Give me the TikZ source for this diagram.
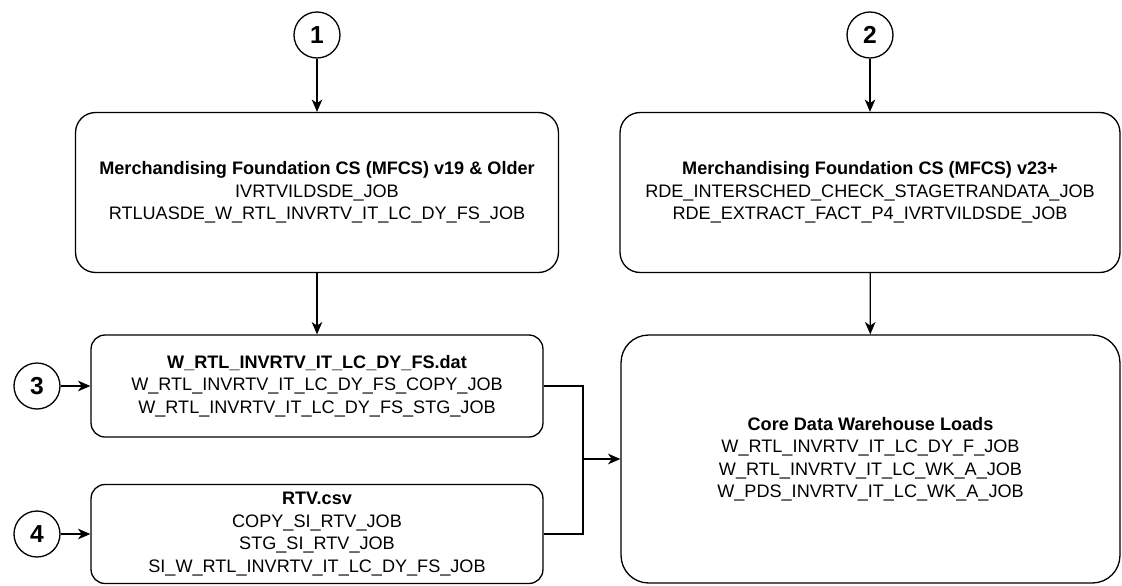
\documentclass[tikz,border=0pt]{standalone}
\usepackage{fontspec}
\setmainfont{Liberation Sans}
\usetikzlibrary{arrows.meta}
\tikzset{
  jobbox/.style={draw, rectangle, line width=0.75pt, align=center, inner sep=0pt,
    font=\fontsize{10.3}{12.8}\selectfont},
  stepnum/.style={draw, circle, line width=0.75pt, minimum size=0.92cm, inner sep=0pt,
    font=\fontsize{14}{16}\selectfont\bfseries},
  flow/.style={-{Stealth[length=7pt,width=6pt,inset=2pt]}, line width=0.75pt}
}
\begin{document}
\begin{tikzpicture}[x=0.02cm, y=-0.02cm]
\useasboundingbox (0,0) rectangle (1122,585);
% Step markers
\node[stepnum] (s1) at (317,35) {1};
\node[stepnum] (s2) at (870,35) {2};
\node[stepnum] (s3) at (37,386) {3};
\node[stepnum] (s4) at (37,534) {4};

% MFCS sources
\node[jobbox, rounded corners=0.4cm, minimum width=9.66cm, minimum height=3.2cm] (old) at (317,192.5)
  {\textbf{Merchandising Foundation CS (MFCS) v19 \& Older}\\
   IVRTVILDSDE\_JOB\\
   RTLUASDE\_W\_RTL\_INVRTV\_IT\_LC\_DY\_FS\_JOB};
\node[jobbox, rounded corners=0.4cm, minimum width=10cm, minimum height=3.2cm] (new) at (870,192.5)
  {\textbf{Merchandising Foundation CS (MFCS) v23+}\\
   RDE\_INTERSCHED\_CHECK\_STAGETRANDATA\_JOB\\
   RDE\_EXTRACT\_FACT\_P4\_IVRTVILDSDE\_JOB};

% Staging files
\node[jobbox, rounded corners=0.28cm, minimum width=9.04cm, minimum height=2.04cm] (dat) at (317,386)
  {\textbf{W\_RTL\_INVRTV\_IT\_LC\_DY\_FS.dat}\\
   W\_RTL\_INVRTV\_IT\_LC\_DY\_FS\_COPY\_JOB\\
   W\_RTL\_INVRTV\_IT\_LC\_DY\_FS\_STG\_JOB};
\node[jobbox, rounded corners=0.28cm, minimum width=9.04cm, minimum height=1.98cm] (csv) at (317,534)
  {\textbf{RTV.csv}\\
   COPY\_SI\_RTV\_JOB\\
   STG\_SI\_RTV\_JOB\\
   SI\_W\_RTL\_INVRTV\_IT\_LC\_DY\_FS\_JOB};

% Warehouse loads
\node[jobbox, rounded corners=0.55cm, minimum width=9.98cm, minimum height=4.96cm] (core) at (870.5,459)
  {\textbf{Core Data Warehouse Loads}\\
   W\_RTL\_INVRTV\_IT\_LC\_DY\_F\_JOB\\
   W\_RTL\_INVRTV\_IT\_LC\_WK\_A\_JOB\\
   W\_PDS\_INVRTV\_IT\_LC\_WK\_A\_JOB};

% Arrows
\coordinate (join) at (583,459);
\draw[flow] (s1) -- (old);
\draw[flow] (s2) -- (new);
\draw[flow] (old) -- (dat);
\draw[flow] (new) -- (core);
\draw[flow] (s3) -- (dat);
\draw[flow] (s4) -- (csv);
\draw[line width=0.75pt] (dat.east) -| (join);
\draw[line width=0.75pt] (csv.east) -| (join);
\draw[flow] (join) -- (core.west);
\end{tikzpicture}
\end{document}
